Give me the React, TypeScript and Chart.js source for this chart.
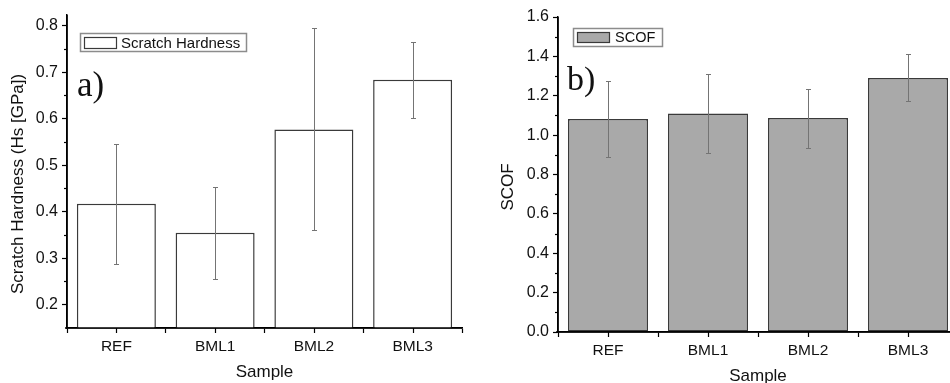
import React, { useEffect, useRef } from 'react';
import { Chart, registerables } from 'chart.js';

Chart.register(...registerables);

// ---------- data ----------
const CATEGORIES = ['REF', 'BML1', 'BML2', 'BML3'];

const HARDNESS = [0.417, 0.355, 0.577, 0.684];
const HARDNESS_ERR_HIGH = [0.546, 0.454, 0.794, 0.766];
const HARDNESS_ERR_LOW = [0.287, 0.255, 0.36, 0.601];
const HARDNESS_TICKS = [0.2, 0.3, 0.4, 0.5, 0.6, 0.7, 0.8];

const SCOF = [1.082, 1.11, 1.087, 1.29];
const SCOF_ERR_HIGH = [1.273, 1.31, 1.236, 1.412];
const SCOF_ERR_LOW = [0.89, 0.911, 0.934, 1.173];
const SCOF_TICKS = [0.0, 0.2, 0.4, 0.6, 0.8, 1.0, 1.2, 1.4, 1.6];

const FONT = '"Liberation Sans", Arial, sans-serif';
const SERIF = '"Liberation Serif", "Times New Roman", serif';

type PanelCfg = {
  values: number[];
  high: number[];
  low: number[];
  ticks: number[];
  decimals: number;
  min: number;
  max: number;
  fill: string;
  label: string;
  yTitle: string;
  xTitle: string;
  panelLabel: string;
  panelFont: number;
  panelPos: [number, number];
  yTitlePos: [number, number];
  legendBox: [number, number, number, number];
  swatch: [number, number, number, number];
  legendTextX: number;
  legendFont: number;
  padding: { left: number; right: number; top: number; bottom: number };
  yWidth: number;
  xHeight: number;
  width: number;
  height: number;
  left: number;
};

function makeDecor(cfg: PanelCfg) {
  return {
    id: 'decor',
    afterDraw(chart: any) {
      const { ctx, chartArea, scales } = chart;
      const ys = scales.y;
      const meta = chart.getDatasetMeta(0);
      ctx.save();

      // error bars
      ctx.strokeStyle = '#747474';
      ctx.lineWidth = 1;
      meta.data.forEach((bar: any, i: number) => {
        const cx = Math.round(bar.x) + 0.5;
        const yh = Math.round(ys.getPixelForValue(cfg.high[i])) + 0.5;
        const yl = Math.round(ys.getPixelForValue(cfg.low[i])) + 0.5;
        ctx.beginPath();
        ctx.moveTo(cx, yh);
        ctx.lineTo(cx, yl);
        ctx.moveTo(cx - 2.5, yh);
        ctx.lineTo(cx + 2.5, yh);
        ctx.moveTo(cx - 2.5, yl);
        ctx.lineTo(cx + 2.5, yl);
        ctx.stroke();
      });

      // axis lines redrawn above the bars
      ctx.strokeStyle = '#000';
      ctx.lineWidth = 1.5;
      ctx.beginPath();
      ctx.moveTo(chartArea.left - 2, chartArea.bottom);
      ctx.lineTo(chartArea.right, chartArea.bottom);
      ctx.moveTo(chartArea.left, chartArea.top);
      ctx.lineTo(chartArea.left, chartArea.bottom);
      ctx.stroke();

      // minor y ticks (midpoints between major ticks)
      ctx.lineWidth = 1.2;
      const majors = cfg.ticks;
      const minors: number[] = [];
      for (let i = 0; i < majors.length - 1; i++) minors.push((majors[i] + majors[i + 1]) / 2);
      minors.forEach((v) => {
        const py = Math.round(ys.getPixelForValue(v)) + 0.5;
        ctx.beginPath();
        ctx.moveTo(chartArea.left - 3, py);
        ctx.lineTo(chartArea.left, py);
        ctx.stroke();
      });

      // x ticks at category centres
      meta.data.forEach((bar: any) => {
        const cx = Math.round(bar.x) + 0.5;
        ctx.beginPath();
        ctx.moveTo(cx, chartArea.bottom);
        ctx.lineTo(cx, chartArea.bottom + 5);
        ctx.stroke();
      });

      // y title
      ctx.fillStyle = '#111';
      ctx.font = `17px ${FONT}`;
      ctx.textAlign = 'center';
      ctx.textBaseline = 'middle';
      ctx.save();
      ctx.translate(cfg.yTitlePos[0], cfg.yTitlePos[1]);
      ctx.rotate(-Math.PI / 2);
      ctx.fillText(cfg.yTitle, 0, 0);
      ctx.restore();

      // x title
      ctx.fillText(cfg.xTitle, (chartArea.left + chartArea.right) / 2, chartArea.bottom + 44);

      // legend
      const [bx, by, bw, bh] = cfg.legendBox;
      ctx.fillStyle = '#fff';
      ctx.fillRect(bx, by, bw, bh);
      ctx.strokeStyle = '#8c8c8c';
      ctx.lineWidth = 1.5;
      ctx.strokeRect(bx, by, bw, bh);
      const [sx, sy, sw, sh] = cfg.swatch;
      ctx.fillStyle = cfg.fill;
      ctx.fillRect(sx, sy, sw, sh);
      ctx.strokeStyle = '#3a3a3a';
      ctx.lineWidth = 1.2;
      ctx.strokeRect(sx, sy, sw, sh);
      ctx.fillStyle = '#111';
      ctx.font = `${cfg.legendFont}px ${FONT}`;
      ctx.textAlign = 'left';
      ctx.textBaseline = 'middle';
      ctx.fillText(cfg.label, cfg.legendTextX, sy + sh / 2 + 0.5);

      // panel label
      ctx.font = `${cfg.panelFont}px ${SERIF}`;
      ctx.textBaseline = 'alphabetic';
      ctx.fillText(cfg.panelLabel, cfg.panelPos[0], cfg.panelPos[1]);

      ctx.restore();
    },
  };
}

function Panel({ cfg }: { cfg: PanelCfg }) {
  const ref = useRef<HTMLCanvasElement | null>(null);
  useEffect(() => {
    if (!ref.current) return;
    const chart = new Chart(ref.current, {
      type: 'bar',
      data: {
        labels: CATEGORIES,
        datasets: [
          {
            label: cfg.label,
            data: cfg.values,
            backgroundColor: cfg.fill,
            borderColor: '#3a3a3a',
            borderWidth: 1.5,
            borderSkipped: false,
            barPercentage: 0.8,
            categoryPercentage: 1,
          },
        ],
      },
      options: {
        responsive: false,
        animation: false,
        devicePixelRatio: 1,
        layout: { padding: cfg.padding },
        plugins: { legend: { display: false }, tooltip: { enabled: false } },
        scales: {
          x: {
            type: 'category',
            offset: true,
            grid: {
              display: true,
              drawOnChartArea: false,
              drawTicks: true,
              tickLength: 5,
              tickColor: '#000',
              tickWidth: 1.2,
              offset: true,
            },
            border: { display: true, color: '#000', width: 1.5 },
            ticks: {
              color: '#111',
              font: { family: FONT, size: 15.5 },
              padding: 4,
              maxRotation: 0,
            },
            afterFit: (scale: any) => {
              scale.height = cfg.xHeight;
            },
          },
          y: {
            type: 'linear',
            min: cfg.min,
            max: cfg.max,
            grid: {
              display: true,
              drawOnChartArea: false,
              drawTicks: true,
              tickLength: 5,
              tickColor: '#000',
              tickWidth: 1.2,
            },
            border: { display: true, color: '#000', width: 1.5 },
            ticks: {
              color: '#111',
              font: { family: FONT, size: 16 },
              padding: 4,
              callback: (v: any) => Number(v).toFixed(cfg.decimals),
            },
            afterBuildTicks: (scale: any) => {
              scale.ticks = cfg.ticks.map((v) => ({ value: v }));
            },
            afterFit: (scale: any) => {
              scale.width = cfg.yWidth;
            },
          },
        },
      },
      plugins: [makeDecor(cfg)],
    } as any);
    return () => chart.destroy();
  }, [cfg]);
  return (
    <canvas
      ref={ref}
      width={cfg.width}
      height={cfg.height}
      style={{ position: 'absolute', left: cfg.left, top: 0, width: cfg.width, height: cfg.height }}
    />
  );
}

const LEFT: PanelCfg = {
  values: HARDNESS,
  high: HARDNESS_ERR_HIGH,
  low: HARDNESS_ERR_LOW,
  ticks: HARDNESS_TICKS,
  decimals: 1,
  min: 0.15,
  max: 0.823,
  fill: '#ffffff',
  label: 'Scratch Hardness',
  yTitle: 'Scratch Hardness (Hs [GPa])',
  xTitle: 'Sample',
  panelLabel: 'a)',
  panelFont: 35,
  panelPos: [77, 96],
  yTitlePos: [18, 184],
  legendBox: [80.5, 33.5, 166, 18],
  swatch: [84.5, 37.5, 32, 11],
  legendTextX: 121,
  legendFont: 15,
  padding: { left: 0, right: 13, top: 15, bottom: 0 },
  yWidth: 67,
  xHeight: 55,
  width: 475,
  height: 383,
  left: 0,
};

const RIGHT: PanelCfg = {
  values: SCOF,
  high: SCOF_ERR_HIGH,
  low: SCOF_ERR_LOW,
  ticks: SCOF_TICKS,
  decimals: 1,
  min: 0,
  max: 1.6,
  fill: '#a9a9a9',
  label: 'SCOF',
  yTitle: 'SCOF',
  xTitle: 'Sample',
  panelLabel: 'b)',
  panelFont: 34,
  panelPos: [92, 90],
  yTitlePos: [33, 187],
  legendBox: [98.5, 28.5, 89, 18],
  swatch: [102.5, 32.5, 32, 10],
  legendTextX: 140,
  legendFont: 14.5,
  padding: { left: 0, right: 7, top: 17, bottom: 0 },
  yWidth: 83,
  xHeight: 58,
  width: 490,
  height: 390,
  left: 475,
};

export default function App() {
  return (
    <div
      style={{
        position: 'fixed',
        left: 0,
        top: 0,
        width: 950,
        height: 383,
        overflow: 'hidden',
        background: '#fff',
      }}
    >
      <Panel cfg={LEFT} />
      <Panel cfg={RIGHT} />
    </div>
  );
}
